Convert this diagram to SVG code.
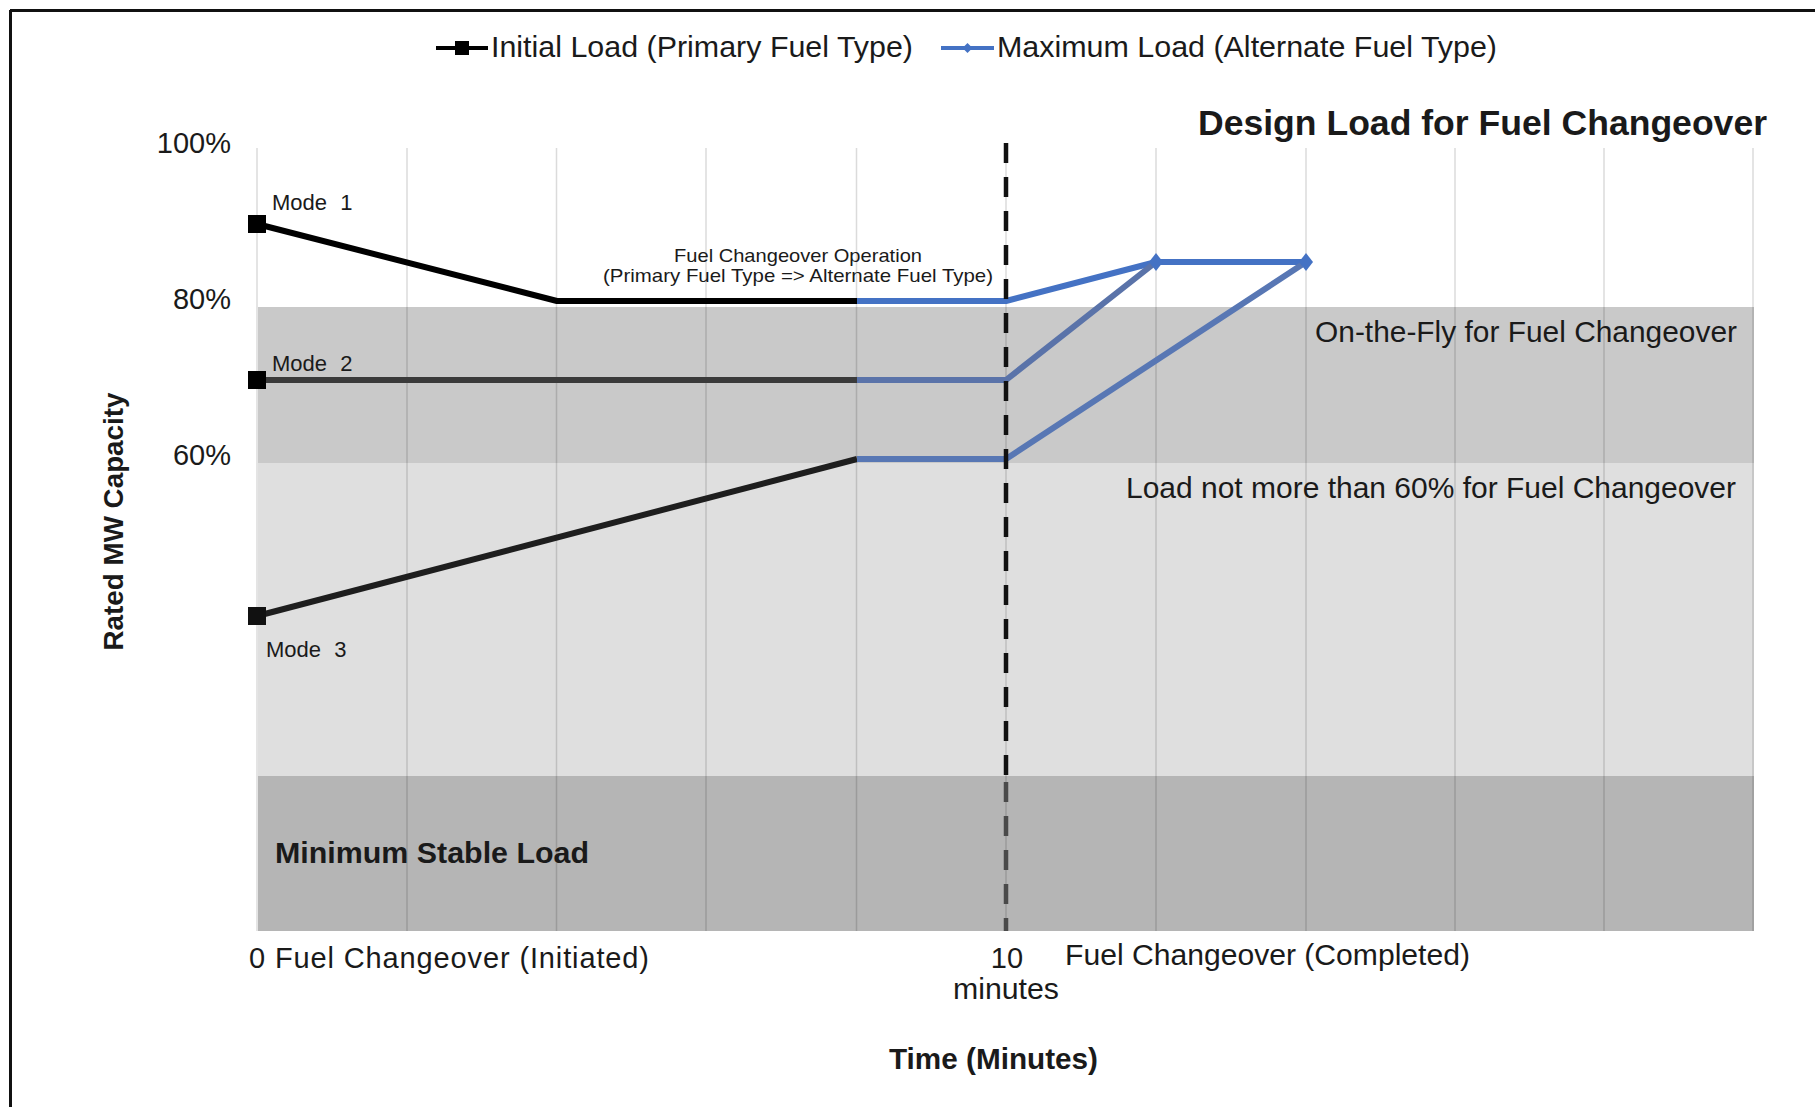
<svg xmlns="http://www.w3.org/2000/svg" width="1815" height="1107" viewBox="0 0 1815 1107">
<style>
text{font-family:"Liberation Sans",Arial,Helvetica,sans-serif;fill:#1a1a1a}
.b{font-weight:bold}
.grid{stroke:#000;stroke-opacity:0.14;stroke-width:1.5}
.blk{fill:none;stroke:#000;stroke-width:6;stroke-linejoin:round}
.blu{fill:none;stroke:#4472c4;stroke-width:6;stroke-linejoin:round}
.blu2{fill:none;stroke:#5a73a9;stroke-width:6;stroke-linejoin:round}
.blu3{fill:none;stroke:#5877b4;stroke-width:6;stroke-linejoin:round}
.mode{font-size:22px;word-spacing:7px}
</style>
<rect x="0" y="0" width="1815" height="1107" fill="#fff"/>
<g id="frame" stroke="#111" stroke-width="3">
<line x1="10" y1="10.5" x2="1815" y2="10.5"/>
<line x1="10.5" y1="10" x2="10.5" y2="1107"/>
</g>
<g id="bands">
<rect x="258" y="307" width="1496" height="156" fill="#c9c9c9"/>
<rect x="258" y="463" width="1496" height="313" fill="#dfdfdf"/>
<rect x="258" y="776" width="1496" height="155" fill="#b5b5b5"/>
</g>
<g id="grid">
<line class="grid" x1="257" y1="148" x2="257" y2="931"/>
<line class="grid" x1="407" y1="148" x2="407" y2="931"/>
<line class="grid" x1="556.5" y1="148" x2="556.5" y2="931"/>
<line class="grid" x1="706" y1="148" x2="706" y2="931"/>
<line class="grid" x1="856.5" y1="148" x2="856.5" y2="931"/>
<line class="grid" x1="1006" y1="148" x2="1006" y2="931"/>
<line class="grid" x1="1156" y1="148" x2="1156" y2="931"/>
<line class="grid" x1="1306" y1="148" x2="1306" y2="931"/>
<line class="grid" x1="1455" y1="148" x2="1455" y2="931"/>
<line class="grid" x1="1604" y1="148" x2="1604" y2="931"/>
<line class="grid" x1="1753" y1="148" x2="1753" y2="931"/>
</g>
<g id="legend">
<line x1="436" y1="48" x2="488" y2="48" stroke="#000" stroke-width="4"/>
<rect x="455" y="41" width="14" height="14" fill="#000"/>
<text x="491" y="57" font-size="30" textLength="422" lengthAdjust="spacingAndGlyphs">Initial Load (Primary Fuel Type)</text>
<line x1="941" y1="48" x2="994" y2="48" stroke="#4472c4" stroke-width="4"/>
<path d="M967.5 43 L972.5 48 L967.5 53 L962.5 48 Z" fill="#4472c4"/>
<text x="997" y="57" font-size="30" textLength="500" lengthAdjust="spacingAndGlyphs">Maximum Load (Alternate Fuel Type)</text>
</g>
<g id="title">
<text class="b" x="1198" y="135" font-size="35" textLength="569" lengthAdjust="spacingAndGlyphs">Design Load for Fuel Changeover</text>
</g>
<g id="yaxis">
<text x="231" y="153" text-anchor="end" font-size="29" fill="#333">100%</text>
<text x="231" y="309" text-anchor="end" font-size="29" fill="#333">80%</text>
<text x="231" y="465" text-anchor="end" font-size="29" fill="#333">60%</text>
<text class="b" transform="translate(123,521.5) rotate(-90)" x="0" y="0" text-anchor="middle" font-size="28" textLength="258" lengthAdjust="spacingAndGlyphs">Rated MW Capacity</text>
</g>
<g id="band-labels">
<text x="1737" y="342" text-anchor="end" font-size="29" textLength="422" lengthAdjust="spacingAndGlyphs">On-the-Fly  for Fuel Changeover</text>
<text x="1736" y="498" text-anchor="end" font-size="29" textLength="610" lengthAdjust="spacingAndGlyphs">Load not more than 60% for Fuel Changeover</text>
<text class="b" x="275" y="863" font-size="29" textLength="314" lengthAdjust="spacingAndGlyphs">Minimum  Stable Load</text>
</g>
<g id="connectors">
<polyline class="blk" points="257,224 557,301 857,301"/>
<polyline class="blu" points="857,301 1006,301 1156,262 1306,262"/>
<polyline class="blk" points="257,380 857,380" style="stroke:#3a3a3a"/>
<polyline class="blu2" points="857,380 1006,380 1156,262"/>
<polyline class="blk" points="257,616 857,459" style="stroke:#1e1e1e"/>
<polyline class="blu3" points="857,459 1006,459 1306,262"/>
</g>
<g id="markers">
<rect x="248" y="215" width="18" height="18" fill="#000"/>
<rect x="248" y="371" width="18" height="18" fill="#000"/>
<rect x="248" y="607" width="18" height="18" fill="#111"/>
<path d="M1156 253 L1163 262 L1156 271 L1149 262 Z" fill="#4472c4"/>
<path d="M1306 253 L1313 262 L1306 271 L1299 262 Z" fill="#4472c4"/>
</g>
<g id="mode-labels">
<text class="mode" x="272" y="210">Mode 1</text>
<text class="mode" x="272" y="371">Mode 2</text>
<text class="mode" x="266" y="657">Mode 3</text>
</g>
<g id="operation-label">
<text x="798" y="262" text-anchor="middle" font-size="19" textLength="248" lengthAdjust="spacingAndGlyphs">Fuel Changeover Operation</text>
<text x="798" y="282" text-anchor="middle" font-size="19" textLength="390" lengthAdjust="spacingAndGlyphs">(Primary Fuel Type =&gt; Alternate Fuel Type)</text>
</g>
<g id="changeover-line">
<line x1="1006" y1="143" x2="1006" y2="776" stroke="#111" stroke-width="4.5" stroke-dasharray="20 14"/>
<line x1="1006" y1="782" x2="1006" y2="931" stroke="#4a4a4a" stroke-width="4.5" stroke-dasharray="20 14"/>
</g>
<g id="xaxis">
<text x="249" y="968" font-size="29" textLength="400" lengthAdjust="spacing">0  Fuel Changeover (Initiated)</text>
<text x="1007" y="968" text-anchor="middle" font-size="29">10</text>
<text x="1006" y="999" text-anchor="middle" font-size="29" textLength="106" lengthAdjust="spacingAndGlyphs">minutes</text>
<text x="1065" y="965" font-size="29" textLength="405" lengthAdjust="spacingAndGlyphs">Fuel Changeover (Completed)</text>
<text class="b" x="889" y="1069" font-size="29" textLength="209" lengthAdjust="spacingAndGlyphs">Time (Minutes)</text>
</g>
</svg>
